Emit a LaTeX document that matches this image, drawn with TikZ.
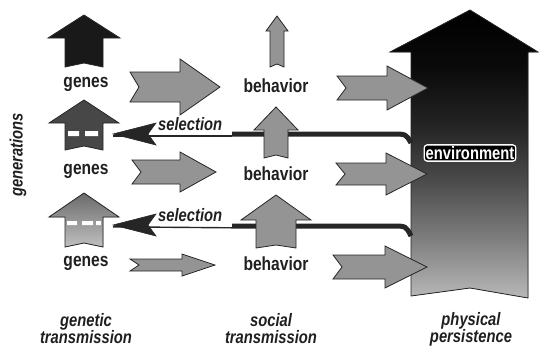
\documentclass[tikz,border=0pt]{standalone}
\usepackage{fontspec}
\setmainfont{Liberation Sans}[FakeStretch=0.82]
\usetikzlibrary{positioning}
\definecolor{arrowgray}{gray}{0.58}
\definecolor{inkblack}{gray}{0.12}
\pgfdeclareverticalshading{envshade}{100bp}{color(0bp)=(black!28); color(25bp)=(black!28);
  color(35bp)=(black!50); color(45bp)=(black!70); color(55bp)=(black!86);
  color(65bp)=(black!96); color(75bp)=(black); color(100bp)=(black)}
% up arrow: style, centre x, apex y, head base y, bottom y, head half, shaft half, notch
\newcommand{\uparr}[8]{%
  \filldraw[#1] (#2,#3) -- ({#2+#6},#4) -- ({#2+#7},#4) -- ({#2+#7},#5)
    -- (#2,{#5-#8}) -- ({#2-#7},#5) -- ({#2-#7},#4) -- ({#2-#6},#4) -- cycle;}
% right arrow: style, tail x, head base x, apex x, mid y, head half, shaft half
\newcommand{\rtarr}[7]{%
  \filldraw[#1] (#2,{#5-#7}) -- (#3,{#5-#7}) -- (#3,{#5-#6}) -- (#4,#5)
    -- (#3,{#5+#6}) -- (#3,{#5+#7}) -- (#2,{#5+#7}) -- ({#2+9},#5) -- cycle;}

\begin{document}
\begin{tikzpicture}[x=1pt, y=-1pt,
    outl/.style={draw=black!85, line width=0.8pt, line join=miter},
    grayarr/.style={outl, fill=arrowgray},
    lbl/.style={font=\bfseries\fontsize{19}{16}\selectfont, text=inkblack, inner sep=0pt},
    axislbl/.style={font=\bfseries\itshape\fontsize{18}{17}\selectfont, text=inkblack,
      inner sep=0pt, align=center},
    sellbl/.style={font=\bfseries\itshape\fontsize{18}{18}\selectfont, text=inkblack, inner sep=0pt},
    selline/.style={draw=black!85, line width=5pt},
    selunder/.style={draw=black!85, line width=1.4pt},
    selhead/.style={fill=black!85, draw=black!85, line width=0.6pt}]
  \useasboundingbox (0,0) rectangle (540,354);

  % physical persistence
  \filldraw[outl, shading=envshade]
    (470,10) -- (538,52) -- (528,52) -- (528,298) -- (470,288) -- (411,296)
    -- (411,52) -- (390,52) -- cycle;
  \node[draw=white, line width=1.3pt, fill=black, rounded corners=3pt, text=white,
    font=\bfseries\fontsize{18}{18}\selectfont, inner sep=1.5pt] (env) at (470,153) {environment};

  % selection
  \coordinate (envA) at (411,143);
  \coordinate (selA) at (232,134);
  \coordinate (tipA) at (113,134);
  \draw[selline] (envA) .. controls (406,134) .. (392,134) -- (selA);
  \draw[selunder] ([yshift=-1.8pt]selA) -- ([yshift=-1.8pt]tipA);
  \filldraw[selhead] (tipA) -- ++(43,-11) -- ++(-8,11) -- ++(8,11) -- cycle;
  \node[sellbl, anchor=base west] (selAtxt) at (158,130) {selection};

  \coordinate (envB) at (411,236);
  \coordinate (selB) at (232,226);
  \coordinate (tipB) at (113,225);
  \draw[selline] (envB) .. controls (406,226) .. (392,226) -- (selB);
  \draw[selunder] ([yshift=-1.8pt]selB) -- ([yshift=-1.8pt]tipB);
  \filldraw[selhead] (tipB) -- ++(43,-11) -- ++(-8,11) -- ++(8,11) -- cycle;
  \node[sellbl, anchor=base west] (selBtxt) at (158,221) {selection};

  % genetic transmission
  \uparr{outl, fill=black!90}{84}{15}{38}{67}{36}{19}{4}
  \uparr{outl, fill=black!72}{84}{100}{123}{150}{35}{19}{4}
  \fill[white] (68,131) rectangle (79,136) (85,131) rectangle (98,136);
  \uparr{outl, top color=black!58, bottom color=black!25}{84}{193}{217}{247}{35}{19}{4}
  \fill[white] (67,221) rectangle (77,225) (82,221) rectangle (93,225) (96,221) rectangle (101,225);

  % social transmission
  \uparr{grayarr}{277}{16}{31}{67}{11}{7}{3}
  \uparr{grayarr}{276}{107}{130}{158}{22}{12}{3}
  \uparr{grayarr}{276}{195}{220}{248}{35}{20}{3}

  \rtarr{grayarr}{130}{180}{220}{87}{28}{15}
  \rtarr{grayarr}{132}{180}{216}{172}{20}{12}
  \rtarr{grayarr}{130}{182}{215}{265}{11}{6}

  \rtarr{grayarr}{337}{387}{428}{88}{22}{12}
  \rtarr{grayarr}{336}{386}{427}{174}{21}{11}
  \rtarr{grayarr}{333}{385}{427}{267}{21}{12}

  % labels
  \node[lbl] (genesA) at (86,84) {genes};
  \node[lbl] (genesB) at (86,171) {genes};
  \node[lbl] (genesC) at (86,263) {genes};
  \node[lbl] (behavA) at (276,86) {behavior};
  \node[lbl] (behavB) at (276,174) {behavior};
  \node[lbl] (behavC) at (276,264) {behavior};

  \node[axislbl, rotate=90] (gener) at (18,155) {generations};
  \node[axislbl] (genet) at (86,329) {genetic\\transmission};
  \node[axislbl] (social) at (271,329) {social\\transmission};
  \node[axislbl] (phys) at (471,329) {physical\\persistence};
\end{tikzpicture}
\end{document}
